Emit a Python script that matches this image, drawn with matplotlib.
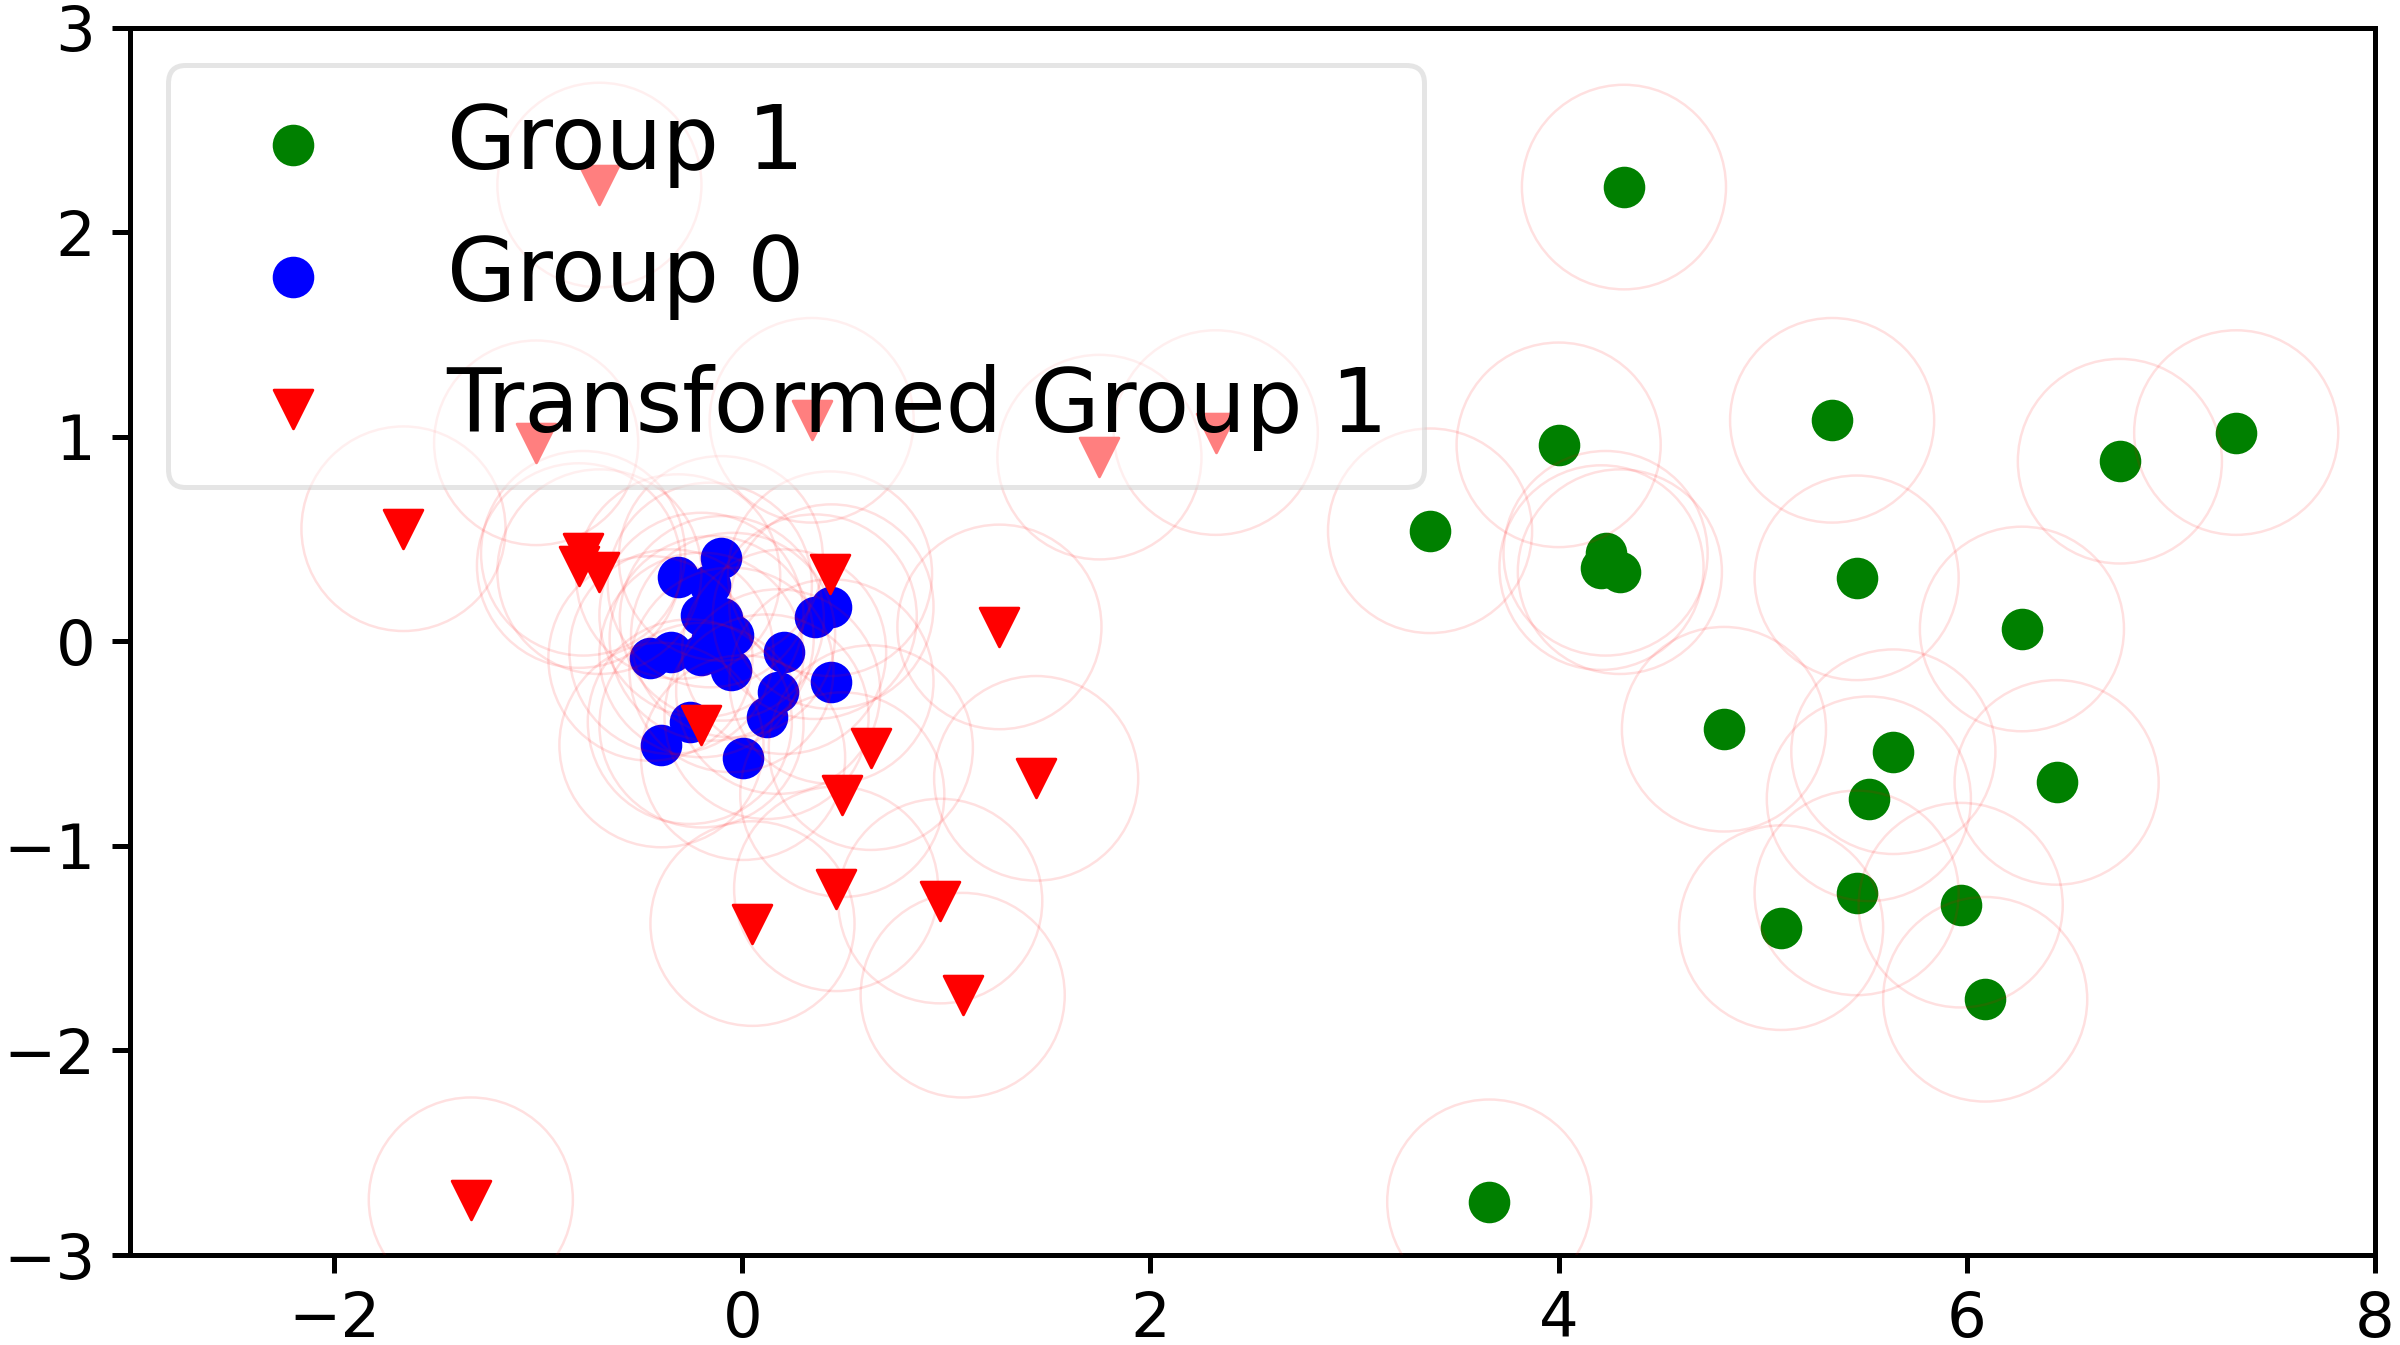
import matplotlib
matplotlib.use("Agg")
import matplotlib.pyplot as plt
from matplotlib.patches import Circle

# Group 1 (green)
g1_x = [4.32, 5.34, 4.00, 7.32, 6.75, 3.37, 4.23, 4.21, 4.30, 5.46,
        6.27, 4.81, 5.64, 5.52, 6.44, 5.46, 5.09, 5.97, 6.09, 3.66]
g1_y = [2.22, 1.08, 0.96, 1.02, 0.88, 0.54, 0.43, 0.36, 0.34, 0.31,
        0.06, -0.43, -0.54, -0.77, -0.69, -1.23, -1.40, -1.29, -1.75, -2.74]

# Group 0 (blue)
g0_x = [-0.105, -0.314, -0.159, -0.20, -0.10, -0.045, -0.15, -0.45, -0.347, -0.20,
        -0.053, 0.355, 0.437, 0.205, 0.437, 0.176, 0.119, -0.257, -0.396, 0.004]
g0_y = [0.405, 0.316, 0.275, 0.128, 0.112, 0.03, 0.014, -0.084, -0.051, -0.067,
        -0.14, 0.12, 0.169, -0.051, -0.197, -0.246, -0.369, -0.393, -0.507, -0.569]

# Transformed Group 1 (red triangles)
t1_x = [-0.70, 0.34, -1.01, 2.32, 1.75, -1.66, -0.78, -0.80, -0.70, 0.43,
        1.26, -0.20, 0.63, 0.49, 1.44, 0.46, 0.05, 0.97, 1.08, -1.33]
t1_y = [2.23, 1.08, 0.97, 1.02, 0.90, 0.55, 0.43, 0.37, 0.34, 0.33,
        0.07, -0.41, -0.52, -0.75, -0.67, -1.21, -1.38, -1.27, -1.73, -2.73]

labels = ["Group 1", "Group 0", "Transformed Group 1"]
x_ticks = [-2, 0, 2, 4, 6, 8]
y_ticks = [-3, -2, -1, 0, 1, 2, 3]

W, H = 2400, 1345
dpi = 200
fig = plt.figure(figsize=(W / dpi, H / dpi), dpi=dpi)
ax = fig.add_axes([130 / W, (H - 1255) / H, (2375 - 130) / W, (1255 - 27.5) / H])

ms = 195
ax.scatter(g1_x, g1_y, s=ms, c="green", marker="o", label=labels[0], zorder=2)
ax.scatter(g0_x, g0_y, s=ms, c="blue", marker="o", label=labels[1], zorder=2)
ax.scatter(t1_x, t1_y, s=ms, c="red", marker="v", label=labels[2], zorder=3)

radius = 0.5
for xs, ys in ((g1_x, g1_y), (g0_x, g0_y), (t1_x, t1_y)):
    for x, y in zip(xs, ys):
        ax.add_patch(Circle((x, y), radius, fill=False, edgecolor="red",
                            alpha=0.12, lw=0.9, zorder=4))

ax.set_xlim(-3, 8)
ax.set_ylim(-3, 3)
ax.set_xticks(x_ticks)
ax.set_yticks(y_ticks)
ax.tick_params(labelsize=22.5, length=6.5, width=1.8, pad=6.0)
for sp in ax.spines.values():
    sp.set_linewidth(1.8)

leg = ax.legend(loc="upper left", fontsize=32.2, scatterpoints=1, framealpha=0.5,
                handletextpad=0.72, borderaxespad=0.42)
leg.set_zorder(10)
leg.get_frame().set_linewidth(1.8)

fig.savefig("out.png", dpi=dpi)
